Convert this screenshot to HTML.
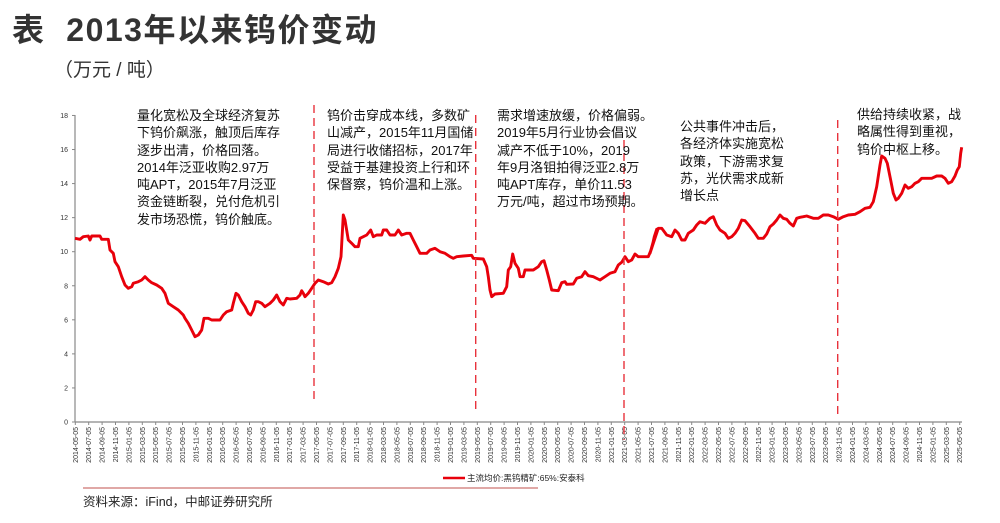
<!DOCTYPE html>
<html><head><meta charset="utf-8">
<style>
html,body{margin:0;padding:0;background:#fff;}
body{width:1000px;height:523px;overflow:hidden;position:relative;font-family:"Liberation Sans","Noto Sans CJK SC",sans-serif;color:#222;}
.t{position:absolute;left:12px;top:5px;font-size:32px;font-weight:bold;color:#333;letter-spacing:1.5px;}
.st{position:absolute;left:54px;top:55px;font-size:19px;color:#333;}
.a{position:absolute;font-size:13px;line-height:17.3px;color:#111;white-space:nowrap;}
.src{position:absolute;left:83px;top:491px;font-size:12.5px;color:#222;}
</style></head><body>
<div class="t">表&nbsp; 2013年以来钨价变动</div>
<div class="st">（万元 / 吨）</div>
<svg id="s" width="1000" height="523" style="position:absolute;left:0;top:0" font-family="Liberation Sans, Noto Sans CJK SC, sans-serif"></svg>
<div class="a" style="left:137px;top:107px">量化宽松及全球经济复苏<br>下钨价飙涨，触顶后库存<br>逐步出清，价格回落。<br>2014年泛亚收购2.97万<br>吨APT，2015年7月泛亚<br>资金链断裂，兑付危机引<br>发市场恐慌，钨价触底。</div>
<div class="a" style="left:327px;top:107px">钨价击穿成本线，多数矿<br>山减产，2015年11月国储<br>局进行收储招标，2017年<br>受益于基建投资上行和环<br>保督察，钨价温和上涨。</div>
<div class="a" style="left:497px;top:107px">需求增速放缓，价格偏弱。<br>2019年5月行业协会倡议<br>减产不低于10%，2019<br>年9月洛钼拍得泛亚2.8万<br>吨APT库存，单价11.53<br>万元/吨，超过市场预期。</div>
<div class="a" style="left:680px;top:118px">公共事件冲击后，<br>各经济体实施宽松<br>政策，下游需求复<br>苏，光伏需求成新<br>增长点</div>
<div class="a" style="left:857px;top:106px">供给持续收紧，战<br>略属性得到重视，<br>钨价中枢上移。</div>
<div class="src">资料来源：iFind，中邮证券研究所</div>
<script>
var s=document.getElementById('s'),h='';
h+='<line x1="75" y1="115" x2="75" y2="422" stroke="#888" stroke-width="1.2"/>';
h+='<line x1="75" y1="422" x2="962" y2="422" stroke="#888" stroke-width="1.2"/>';
for(var v=0;v<=18;v+=2){var y=422-v*17.03;h+='<line x1="72" y1="'+y+'" x2="75" y2="'+y+'" stroke="#888"/><text x="68" y="'+(y+2.5)+'" font-size="7" text-anchor="end" fill="#333">'+v+'</text>';}
var yr=2014,m=5;
for(var i=0;i<=66;i++){var x=75.3+i*13.4;var lab=yr+'-'+(m<10?'0':'')+m+'-05';
h+='<line x1="'+x+'" y1="422" x2="'+x+'" y2="425" stroke="#888"/><text transform="translate('+(x+2.5)+',427) rotate(-90)" font-size="7" text-anchor="end" fill="#333">'+lab+'</text>';
m+=2;if(m>12){m-=12;yr++;}}
function P(ox,oy,a){return a.map(function(p){return (ox+p[0]/3).toFixed(1)+','+(oy+p[1]/3).toFixed(1)});}
var z1=[[45,415],[60,418],[70,410],[85,408],[90,420],[95,408],[120,408],[125,418],[145,418],[150,450],[160,460],[165,485],[175,500],[185,530],[195,555],[205,565],[215,560],[220,550],[235,545],[245,540],[255,530],[265,540],[275,548],[290,555],[305,565],[315,580],[325,610],[340,620],[355,630],[370,645],[375,655],[385,670],[395,690],[405,710],[415,705],[425,690],[432,655],[445,655],[455,660],[480,660],[490,645],[500,635],[515,630],[520,610],[528,580],[535,585],[545,605],[555,620],[565,640],[572,645],[580,630],[587,605],[595,605],[605,610],[615,620],[630,610],[640,600],[650,585],[660,605],[670,615],[680,595],[690,597],[710,595],[720,585],[725,572],[730,580],[735,590],[745,580],[755,565],[765,550],[775,540],[790,545],[805,552],[815,548],[825,530],[835,505],[843,470]];
var z3=[[10,345],[15,360],[25,420],[35,430],[45,440],[55,440],[60,415],[70,410],[80,405],[92,390],[100,410],[110,405],[125,405],[130,390],[140,390],[150,405],[165,405],[175,390],[185,405],[200,400],[210,400],[220,420],[230,440],[240,460],[260,460],[270,450],[285,445],[300,455],[315,460],[330,470],[340,475],[350,470],[370,468],[395,466],[400,475],[430,477],[440,500],[445,530],[450,570],[455,590],[465,582],[490,580],[500,560],[505,510],[512,500],[518,462],[525,490],[535,505],[540,530],[550,530],[555,510],[580,510],[595,500],[605,485],[612,482],[620,510],[628,540],[635,570],[655,572],[665,548],[675,545],[680,553],[700,552],[710,535],[725,530],[735,515],[745,527],[760,530],[780,540],[795,530],[810,520],[825,515],[835,495],[845,487],[855,470],[865,485],[875,480],[885,462],[895,470],[925,470],[935,445],[943,410],[950,388]];
var z4=[[0,460],[10,430],[25,385],[35,385],[50,405],[65,410],[75,390],[85,400],[95,420],[105,420],[115,400],[130,390],[140,375],[150,365],[165,370],[180,355],[190,350],[200,375],[210,390],[225,400],[235,415],[245,410],[255,400],[265,385],[275,360],[285,362],[300,380],[315,400],[325,415],[340,415],[350,402],[360,380],[370,372],[380,360],[390,345],[400,355],[410,358],[420,370],[430,378],[440,355],[450,352],[460,350],[470,348],[490,355],[505,355],[520,345],[535,345],[550,350],[565,358],[580,350],[595,345],[615,343],[630,335],[645,325],[660,322],[670,305],[680,260],[690,195],[695,168],[705,175],[712,190],[720,230],[730,280],[738,300],[745,295],[755,280],[765,255],[775,265],[785,260],[795,250],[805,245],[815,235],[830,235],[845,235],[860,228],[875,228],[885,235],[895,250],[905,245],[915,228],[922,210],[928,200],[932,160],[935,142]];
var pts=P(60,100,z1).concat(P(340,100,z3)).concat(P(650,100,z4));
h+='<polyline points="'+pts.join(' ')+'" fill="none" stroke="#e8000b" stroke-width="2.9" stroke-linejoin="round"/>';
[[314,105,402],[475.7,115,410],[624,140,440],[837.7,120,415]].forEach(function(d){h+='<line x1="'+d[0]+'" y1="'+d[1]+'" x2="'+d[0]+'" y2="'+d[2]+'" stroke="#e8323c" stroke-width="1.4" stroke-dasharray="8,5"/>';});
h+='<line x1="443" y1="478" x2="465" y2="478" stroke="#e8000b" stroke-width="2.5"/><text x="467" y="481" font-size="8.5" fill="#222">主流均价:黑钨精矿:65%:安泰科</text>';
h+='<line x1="83" y1="488" x2="538" y2="488" stroke="#c0504d" stroke-width="1"/>';
s.innerHTML=h;
</script>
</body></html>
